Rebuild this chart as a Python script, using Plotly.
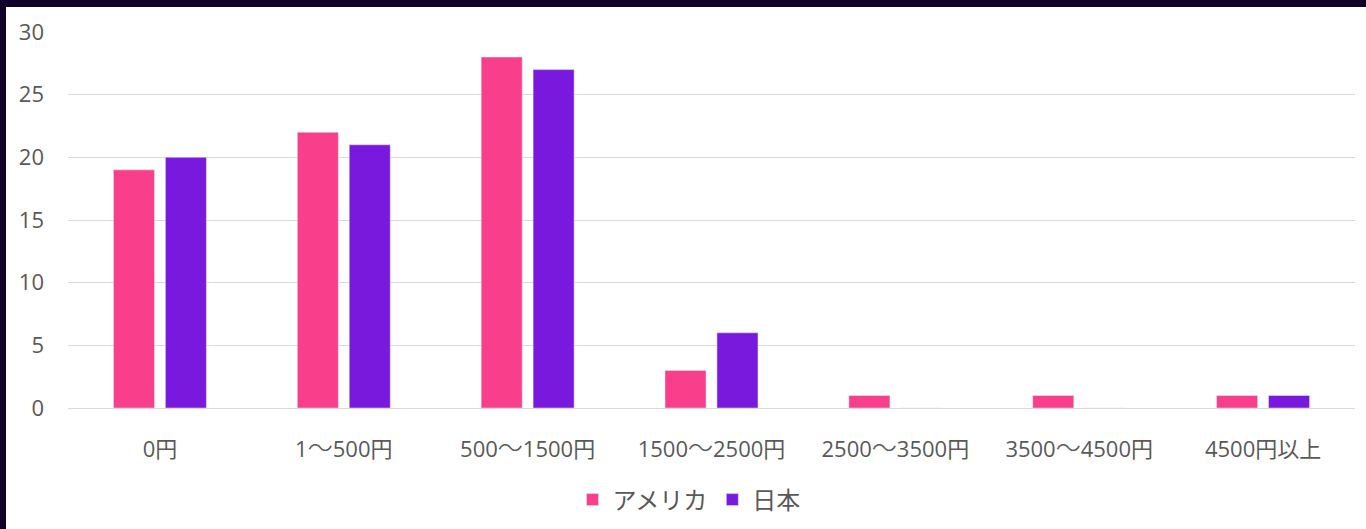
import plotly.graph_objects as go

# Price bands and response counts per country
categories = ["0円", "1〜500円", "500〜1500円", "1500〜2500円", "2500〜3500円", "3500〜4500円", "4500円以上"]
usa_values = [19, 22, 28, 3, 1, 1, 1]
japan_values = [20, 21, 27, 6, 0, 0, 1]
series_names = ["アメリカ", "日本"]
y_ticks = [0, 5, 10, 15, 20, 25, 30]

PINK = "#F93E8B"
PURPLE = "#7A19DE"
TEXT = "#595959"
GRID = "#D9D9D9"
FRAME = "#11022A"
FONT = "Open Sans, Noto Sans CJK JP"
CJK = "Noto Sans CJK JP"

W, H = 1366, 529
ML, MR, MT, MB = 68, 11, 32, 121

# the wave dash is set a little wider than the digits around it
tick_text = [c.replace("〜", "<span style='font-size:25px;font-weight:300'>〜</span>") for c in categories]

fig = go.Figure()
fig.add_trace(go.Bar(name=series_names[0], x=categories, y=usa_values, marker_color=PINK))
fig.add_trace(go.Bar(name=series_names[1], x=categories, y=japan_values, marker_color=PURPLE))

# dark frame strips along the top and left edges (paper coordinates)
pw = W - ML - MR
ph = H - MT - MB
def px_x(p):
    return (p - ML) / pw
def px_y(p):
    return (H - MB - p) / ph

shapes = [
    dict(type="rect", xref="paper", yref="paper", x0=px_x(0), x1=px_x(W), y0=px_y(7), y1=px_y(0),
         fillcolor=FRAME, line_width=0, layer="above"),
    dict(type="rect", xref="paper", yref="paper", x0=px_x(0), x1=px_x(6), y0=px_y(H), y1=px_y(0),
         fillcolor=FRAME, line_width=0, layer="above"),
]

fig.update_layout(
    width=W, height=H,
    margin=dict(l=ML, r=MR, t=MT, b=MB, pad=0, autoexpand=False),
    paper_bgcolor="white", plot_bgcolor="white",
    font=dict(family=FONT, color=TEXT, size=22),
    barmode="group", bargap=0.435, bargroupgap=0.21,
    shapes=shapes,
    legend=dict(orientation="h", xref="container", x=689 / W, xanchor="center",
                yref="container", y=(H - 500) / H, yanchor="middle",
                font=dict(family=CJK, size=24, color=TEXT), itemwidth=30, traceorder="normal"),
    xaxis=dict(showgrid=False, showline=False, ticks="", ticklabelstandoff=26, automargin=False,
               tickmode="array", tickvals=categories, ticktext=tick_text,
               tickfont=dict(size=22, color=TEXT)),
    yaxis=dict(range=[0, 30], tickvals=y_ticks, showgrid=True, gridcolor=GRID, gridwidth=1,
               zeroline=True, zerolinecolor=GRID, zerolinewidth=1, showline=False, ticks="",
               automargin=False, ticklabelstandoff=23, tickfont=dict(size=22, color=TEXT)),
)

fig.write_html("out.html")
